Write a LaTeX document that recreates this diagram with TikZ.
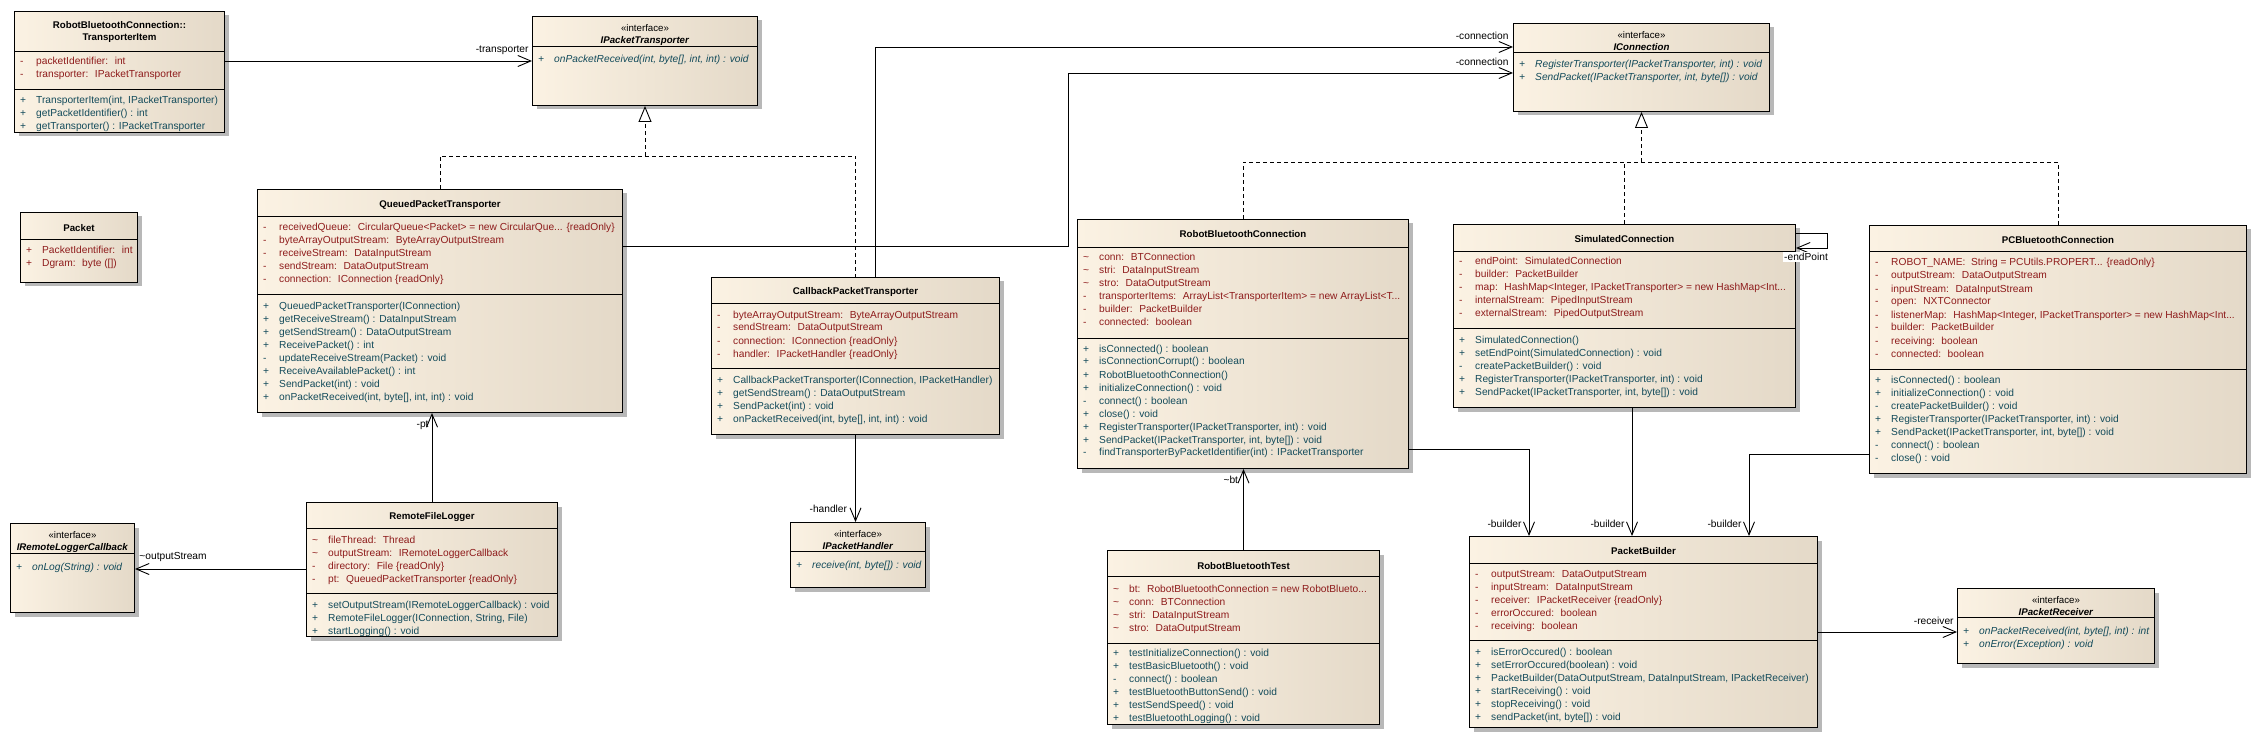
\documentclass[tikz,border=0pt]{standalone}
\usepackage{fontspec}
\setmainfont{Liberation Sans}
\usepackage{array}
\usetikzlibrary{arrows.meta,shadows,calc}

\definecolor{boxl}{HTML}{FBF2E3}
\definecolor{boxr}{HTML}{E4D9C8}
\definecolor{attrcol}{HTML}{8E1B1B}
\definecolor{opcol}{HTML}{134B5B}
\newcommand{\rowfont}{\fontsize{10.2}{13}\selectfont}
\newenvironment{members}{\begin{tabular}[t]{@{}p{16pt}@{}l@{}}}{\end{tabular}}

\tikzset{
  classbox/.style={draw, line width=1pt, anchor=north west, inner sep=0pt,
    left color=boxl, right color=boxr,
    drop shadow={shadow xshift=4pt, shadow yshift=-4pt, opacity=1, fill=black!28}},
  title/.style={font=\bfseries\fontsize{9.7}{12.5}\selectfont, align=center, inner sep=0pt},
  attrs/.style={anchor=base west, inner xsep=6pt, inner ysep=0pt, text=attrcol, font=\rowfont},
  ops/.style={attrs, text=opcol},
  iops/.style={ops, font=\rowfont\itshape},
  assoc/.style={line width=0.9pt, -{Straight Barb[length=13pt,width=11pt]}},
  realize/.style={line width=0.9pt, dash pattern=on 4pt off 3pt},
  gen/.style={-{Triangle[length=16pt,width=13pt,fill=white]}},
  lbl/.style={font=\fontsize{10.2}{12}\selectfont, inner sep=0pt, anchor=east}
}

\begin{document}
\begin{tikzpicture}[x=1pt, y=-1pt]
    \fill[white] (0,0) rectangle (2256,735);
    \useasboundingbox (0,0) rectangle (2256,735);

    % TransporterItem
    \node[classbox, minimum width=210pt, minimum height=121pt] (ti) at (14,11) {};
    \draw (ti.west |- 0,51) -- (ti.east |- 0,51) (ti.west |- 0,89) -- (ti.east |- 0,89);
    \node[title] (ti-t) at (ti.north |- 0,32) {RobotBluetoothConnection::\\TransporterItem};
    \node[attrs] (ti-a) at (ti.west |- 0,65) {\begin{members}
        - & packetIdentifier:~ int\\
        - & transporter:~ IPacketTransporter
    \end{members}};
    \node[ops] (ti-o) at (ti.west |- 0,104) {\begin{members}
        + & TransporterItem(int, IPacketTransporter)\\
        + & getPacketIdentifier() : int\\
        + & getTransporter() : IPacketTransporter
    \end{members}};

    % Packet
    \node[classbox, minimum width=117pt, minimum height=70pt] (pkt) at (20,212) {};
    \draw (pkt.west |- 0,239) -- (pkt.east |- 0,239);
    \node[title] (pkt-t) at (pkt.north |- 0,228) {Packet};
    \node[attrs] (pkt-a) at (pkt.west |- 0,254) {\begin{members}
        + & PacketIdentifier:~ int\\
        + & Dgram:~ byte ([])
    \end{members}};

    % IPacketTransporter
    \node[classbox, minimum width=225pt, minimum height=89pt] (ipt) at (532,16) {};
    \draw (ipt.west |- 0,46) -- (ipt.east |- 0,46);
    \node[title] (ipt-t) at (ipt.north |- 0,35) {{\mdseries «interface»}\\\textit{IPacketTransporter}};
    \node[iops] (ipt-o) at (ipt.west |- 0,63) {\begin{members}
        + & onPacketReceived(int, byte[], int, int) : void
    \end{members}};

    % QueuedPacketTransporter
    \node[classbox, minimum width=365pt, minimum height=223pt] (qpt) at (257,189) {};
    \draw (qpt.west |- 0,216) -- (qpt.east |- 0,216) (qpt.west |- 0,294) -- (qpt.east |- 0,294);
    \node[title] (qpt-t) at (qpt.north |- 0,205) {QueuedPacketTransporter};
    \node[attrs] (qpt-a) at (qpt.west |- 0,231) {\begin{members}
        - & receivedQueue:~ CircularQueue<Packet> = new CircularQue... \{readOnly\}\\
        - & byteArrayOutputStream:~ ByteArrayOutputStream\\
        - & receiveStream:~ DataInputStream\\
        - & sendStream:~ DataOutputStream\\
        - & connection:~ IConnection \{readOnly\}
    \end{members}};
    \node[ops] (qpt-o) at (qpt.west |- 0,309) {\begin{members}
        + & QueuedPacketTransporter(IConnection)\\
        + & getReceiveStream() : DataInputStream\\
        + & getSendStream() : DataOutputStream\\
        + & ReceivePacket() : int\\
        - & updateReceiveStream(Packet) : void\\
        + & ReceiveAvailablePacket() : int\\
        + & SendPacket(int) : void\\
        + & onPacketReceived(int, byte[], int, int) : void
    \end{members}};

    % CallbackPacketTransporter
    \node[classbox, minimum width=288pt, minimum height=157pt] (cpt) at (711,277) {};
    \draw (cpt.west |- 0,303) -- (cpt.east |- 0,303) (cpt.west |- 0,368) -- (cpt.east |- 0,368);
    \node[title] (cpt-t) at (cpt.north |- 0,292) {CallbackPacketTransporter};
    \node[attrs] (cpt-a) at (cpt.west |- 0,318) {\begin{members}
        - & byteArrayOutputStream:~ ByteArrayOutputStream\\
        - & sendStream:~ DataOutputStream\\
        - & connection:~ IConnection \{readOnly\}\\
        - & handler:~ IPacketHandler \{readOnly\}
    \end{members}};
    \node[ops] (cpt-o) at (cpt.west |- 0,383) {\begin{members}
        + & CallbackPacketTransporter(IConnection, IPacketHandler)\\
        + & getSendStream() : DataOutputStream\\
        + & SendPacket(int) : void\\
        + & onPacketReceived(int, byte[], int, int) : void
    \end{members}};

    % IPacketHandler
    \node[classbox, minimum width=135pt, minimum height=65pt] (iph) at (790,522) {};
    \draw (iph.west |- 0,551) -- (iph.east |- 0,551);
    \node[title] (iph-t) at (iph.north |- 0,540) {{\mdseries «interface»}\\\textit{IPacketHandler}};
    \node[iops] (iph-o) at (iph.west |- 0,568) {\begin{members}
        + & receive(int, byte[]) : void
    \end{members}};

    % RemoteFileLogger
    \node[classbox, minimum width=251pt, minimum height=134pt] (rfl) at (306,502) {};
    \draw (rfl.west |- 0,528) -- (rfl.east |- 0,528) (rfl.west |- 0,593) -- (rfl.east |- 0,593);
    \node[title] (rfl-t) at (rfl.north |- 0,517) {RemoteFileLogger};
    \node[attrs] (rfl-a) at (rfl.west |- 0,543) {\begin{members}
        \textasciitilde & fileThread:~ Thread\\
        \textasciitilde & outputStream:~ IRemoteLoggerCallback\\
        - & directory:~ File \{readOnly\}\\
        - & pt:~ QueuedPacketTransporter \{readOnly\}
    \end{members}};
    \node[ops] (rfl-o) at (rfl.west |- 0,608) {\begin{members}
        + & setOutputStream(IRemoteLoggerCallback) : void\\
        + & RemoteFileLogger(IConnection, String, File)\\
        + & startLogging() : void
    \end{members}};

    % IRemoteLoggerCallback
    \node[classbox, minimum width=124pt, minimum height=89pt] (irlc) at (10,523) {};
    \draw (irlc.west |- 0,553) -- (irlc.east |- 0,553);
    \node[title] (irlc-t) at (irlc.north |- 0,542) {{\mdseries «interface»}\\\textit{IRemoteLoggerCallback}};
    \node[iops] (irlc-o) at (irlc.west |- 0,570) {\begin{members}
        + & onLog(String) : void
    \end{members}};

    % IConnection
    \node[classbox, minimum width=256pt, minimum height=88pt] (iconn) at (1513,23) {};
    \draw (iconn.west |- 0,52) -- (iconn.east |- 0,52);
    \node[title] (iconn-t) at (iconn.north |- 0,41) {{\mdseries «interface»}\\\textit{IConnection}};
    \node[iops] (iconn-o) at (iconn.west |- 0,68) {\begin{members}
        + & RegisterTransporter(IPacketTransporter, int) : void\\
        + & SendPacket(IPacketTransporter, int, byte[]) : void
    \end{members}};

    % RobotBluetoothConnection
    \node[classbox, minimum width=331pt, minimum height=249pt] (rbc) at (1077,219) {};
    \draw (rbc.west |- 0,247) -- (rbc.east |- 0,247) (rbc.west |- 0,338) -- (rbc.east |- 0,338);
    \node[title] (rbc-t) at (rbc.north |- 0,234) {RobotBluetoothConnection};
    \node[attrs] (rbc-a) at (rbc.west |- 0,261) {\begin{members}
        \textasciitilde & conn:~ BTConnection\\
        \textasciitilde & stri:~ DataInputStream\\
        \textasciitilde & stro:~ DataOutputStream\\
        - & transporterItems:~ ArrayList<TransporterItem> = new ArrayList<T...\\
        - & builder:~ PacketBuilder\\
        - & connected:~ boolean
    \end{members}};
    \node[ops] (rbc-o) at (rbc.west |- 0,352) {\begin{members}
        + & isConnected() : boolean\\
        + & isConnectionCorrupt() : boolean\\
        + & RobotBluetoothConnection()\\
        + & initializeConnection() : void\\
        - & connect() : boolean\\
        + & close() : void\\
        + & RegisterTransporter(IPacketTransporter, int) : void\\
        + & SendPacket(IPacketTransporter, int, byte[]) : void\\
        - & findTransporterByPacketIdentifier(int) : IPacketTransporter
    \end{members}};

    % SimulatedConnection
    \node[classbox, minimum width=342pt, minimum height=183pt] (sc) at (1453,224) {};
    \draw (sc.west |- 0,251) -- (sc.east |- 0,251) (sc.west |- 0,328) -- (sc.east |- 0,328);
    \node[title] (sc-t) at (sc.north |- 0,239) {SimulatedConnection};
    \node[attrs] (sc-a) at (sc.west |- 0,265) {\begin{members}
        - & endPoint:~ SimulatedConnection\\
        - & builder:~ PacketBuilder\\
        - & map:~ HashMap<Integer, IPacketTransporter> = new HashMap<Int...\\
        - & internalStream:~ PipedInputStream\\
        - & externalStream:~ PipedOutputStream
    \end{members}};
    \node[ops] (sc-o) at (sc.west |- 0,343) {\begin{members}
        + & SimulatedConnection()\\
        + & setEndPoint(SimulatedConnection) : void\\
        - & createPacketBuilder() : void\\
        + & RegisterTransporter(IPacketTransporter, int) : void\\
        + & SendPacket(IPacketTransporter, int, byte[]) : void
    \end{members}};

    % PCBluetoothConnection
    \node[classbox, minimum width=377pt, minimum height=248pt] (pcbc) at (1869,225) {};
    \draw (pcbc.west |- 0,251) -- (pcbc.east |- 0,251) (pcbc.west |- 0,369) -- (pcbc.east |- 0,369);
    \node[title] (pcbc-t) at (pcbc.north |- 0,240) {PCBluetoothConnection};
    \node[attrs] (pcbc-a) at (pcbc.west |- 0,266) {\begin{members}
        - & ROBOT\_NAME:~ String = PCUtils.PROPERT... \{readOnly\}\\
        - & outputStream:~ DataOutputStream\\
        - & inputStream:~ DataInputStream\\
        - & open:~ NXTConnector\\
        - & listenerMap:~ HashMap<Integer, IPacketTransporter> = new HashMap<Int...\\
        - & builder:~ PacketBuilder\\
        - & receiving:~ boolean\\
        - & connected:~ boolean
    \end{members}};
    \node[ops] (pcbc-o) at (pcbc.west |- 0,383) {\begin{members}
        + & isConnected() : boolean\\
        + & initializeConnection() : void\\
        - & createPacketBuilder() : void\\
        + & RegisterTransporter(IPacketTransporter, int) : void\\
        + & SendPacket(IPacketTransporter, int, byte[]) : void\\
        - & connect() : boolean\\
        - & close() : void
    \end{members}};

    % RobotBluetoothTest
    \node[classbox, minimum width=272pt, minimum height=174pt] (rbt) at (1107,550) {};
    \draw (rbt.west |- 0,576) -- (rbt.east |- 0,576) (rbt.west |- 0,643) -- (rbt.east |- 0,643);
    \node[title] (rbt-t) at (rbt.north |- 0,566) {RobotBluetoothTest};
    \node[attrs] (rbt-a) at (rbt.west |- 0,592) {\begin{members}
        \textasciitilde & bt:~ RobotBluetoothConnection = new RobotBlueto...\\
        \textasciitilde & conn:~ BTConnection\\
        \textasciitilde & stri:~ DataInputStream\\
        \textasciitilde & stro:~ DataOutputStream
    \end{members}};
    \node[ops] (rbt-o) at (rbt.west |- 0,656) {\begin{members}
        + & testInitializeConnection() : void\\
        + & testBasicBluetooth() : void\\
        - & connect() : boolean\\
        + & testBluetoothButtonSend() : void\\
        + & testSendSpeed() : void\\
        + & testBluetoothLogging() : void
    \end{members}};

    % PacketBuilder
    \node[classbox, minimum width=348pt, minimum height=191pt] (pb) at (1469,536) {};
    \draw (pb.west |- 0,563) -- (pb.east |- 0,563) (pb.west |- 0,640) -- (pb.east |- 0,640);
    \node[title] (pb-t) at (pb.north |- 0,551) {PacketBuilder};
    \node[attrs] (pb-a) at (pb.west |- 0,577) {\begin{members}
        - & outputStream:~ DataOutputStream\\
        - & inputStream:~ DataInputStream\\
        - & receiver:~ IPacketReceiver \{readOnly\}\\
        - & errorOccured:~ boolean\\
        - & receiving:~ boolean
    \end{members}};
    \node[ops] (pb-o) at (pb.west |- 0,655) {\begin{members}
        + & isErrorOccured() : boolean\\
        + & setErrorOccured(boolean) : void\\
        + & PacketBuilder(DataOutputStream, DataInputStream, IPacketReceiver)\\
        + & startReceiving() : void\\
        + & stopReceiving() : void\\
        + & sendPacket(int, byte[]) : void
    \end{members}};

    % IPacketReceiver
    \node[classbox, minimum width=197pt, minimum height=75pt] (ipr) at (1957,588) {};
    \draw (ipr.west |- 0,617) -- (ipr.east |- 0,617);
    \node[title] (ipr-t) at (ipr.north |- 0,606) {{\mdseries «interface»}\\\textit{IPacketReceiver}};
    \node[iops] (ipr-o) at (ipr.west |- 0,634) {\begin{members}
        + & onPacketReceived(int, byte[], int) : int\\
        + & onError(Exception) : void
    \end{members}};

    % Realizations
    \draw[realize] (qpt.north) |- (cpt.north |- 0,156) -- (cpt.north);
    \draw[realize, gen] (ipt.south |- 0,156) -- (ipt.south);
    \draw[realize] (rbc.north) |- (pcbc.north |- 0,162) -- (pcbc.north);
    \draw[realize] (sc.north) -- (sc.north |- 0,162);
    \draw[realize, gen] (iconn.south |- 0,162) -- (iconn.south);

    % Associations
    \draw[assoc] (ti.east |- 0,61) -- (ipt.west |- 0,61)
        node[lbl, xshift=-3pt, yshift=11pt] {-transporter};
    \draw[assoc] (cpt.north -| 875,0) |- (iconn.west |- 0,47)
        node[lbl, xshift=-4pt, yshift=11pt] {-connection};
    \draw[assoc] (qpt.east |- 0,246) -| (1068,73) -- (iconn.west |- 0,73)
        node[lbl, xshift=-4pt, yshift=11pt] {-connection};
    \draw[assoc] (cpt.south) -- (cpt.south |- iph.north)
        node[lbl, xshift=-8pt, yshift=13pt] {-handler};
    \draw[assoc] (rfl.north) -- (rfl.north |- qpt.south)
        node[lbl, xshift=-3pt, yshift=-12pt] {-pt};
    \draw[assoc] (rfl.west |- 0,569) -- (irlc.east |- 0,569)
        node[lbl, anchor=west, xshift=4pt, yshift=12pt] {\textasciitilde outputStream};
    \draw[assoc] (rbt.north) -- (rbt.north |- rbc.south)
        node[lbl, xshift=-5pt, yshift=-11pt] {\textasciitilde bt};
    \draw[assoc] (rbc.east |- 0,449) -| (pb.north -| 1529,0)
        node[lbl, xshift=-7pt, yshift=12pt] {-builder};
    \draw[assoc] (sc.south -| 1632,0) -- (pb.north -| 1632,0)
        node[lbl, xshift=-7pt, yshift=12pt] {-builder};
    \draw[assoc] (pcbc.west |- 0,454) -| (pb.north -| 1749,0)
        node[lbl, xshift=-7pt, yshift=12pt] {-builder};
    \draw[assoc] (pb.east |- 0,632) -- (ipr.west |- 0,632)
        node[lbl, xshift=-3pt, yshift=11pt] {-receiver};
    \draw[assoc] (sc.east |- 0,233) -- (1827,233) -- (1827,248) -- (sc.east |- 0,248)
        node[lbl, anchor=north, fill=white, inner sep=1pt, xshift=10pt, yshift=-4pt] {-endPoint};
\end{tikzpicture}
\end{document}
